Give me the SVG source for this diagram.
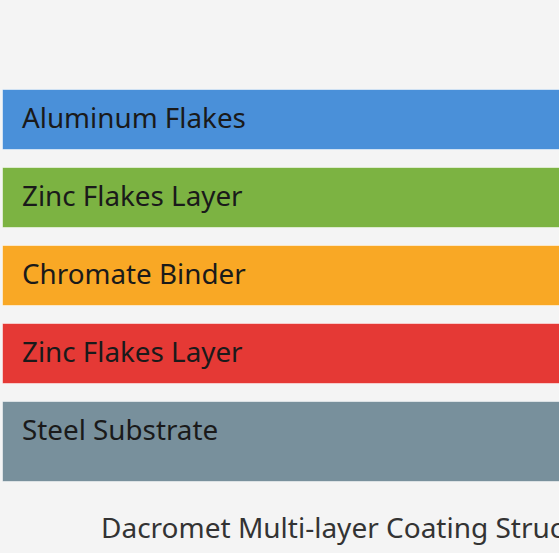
<svg xmlns="http://www.w3.org/2000/svg" width="559" height="553" viewBox="0 0 559 553">
<style>
.layer{stroke:#ffffff;stroke-opacity:0.5;stroke-width:1}
.lbl{font-family:"Noto Sans","Open Sans",sans-serif;font-size:27.8px;fill:#1a1a1a}
.title{font-family:"Noto Sans","Open Sans",sans-serif;font-size:28px;fill:#333333}
</style>
<rect width="559" height="553" fill="#f4f4f4"/>
<g id="aluminum">
<rect class="layer" x="2.5" y="89.5" width="580" height="60" fill="#4a90d9"/>
<text class="lbl" x="22" y="128">Aluminum Flakes</text>
</g>
<g id="zinc-top">
<rect class="layer" x="2.5" y="167.5" width="580" height="60" fill="#7cb342"/>
<text class="lbl" x="22" y="206">Zinc Flakes Layer</text>
</g>
<g id="chromate">
<rect class="layer" x="2.5" y="245.5" width="580" height="60" fill="#f9a825"/>
<text class="lbl" x="22" y="284">Chromate Binder</text>
</g>
<g id="zinc-bottom">
<rect class="layer" x="2.5" y="323.5" width="580" height="60" fill="#e53935"/>
<text class="lbl" x="22" y="362">Zinc Flakes Layer</text>
</g>
<g id="steel">
<rect class="layer" x="2.5" y="401.5" width="580" height="80" fill="#78909c"/>
<text class="lbl" x="22" y="440">Steel Substrate</text>
</g>
<g id="connectors"></g>
<text class="title" x="101" y="537.5">Dacromet Multi-layer Coating Structure</text>
</svg>
